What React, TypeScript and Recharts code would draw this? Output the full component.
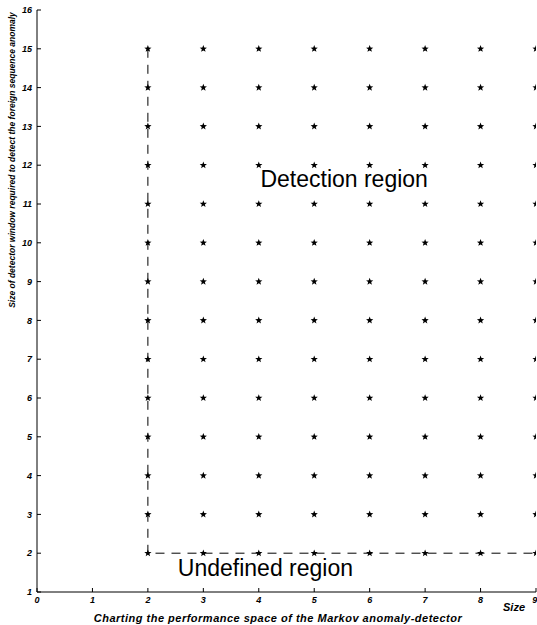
import { ScatterChart, Scatter, XAxis, YAxis, ReferenceDot } from 'recharts';

const detectorSizes = [2, 3, 4, 5, 6, 7, 8, 9];
const windowSizes = [2, 3, 4, 5, 6, 7, 8, 9, 10, 11, 12, 13, 14, 15];
const xTicks = [0, 1, 2, 3, 4, 5, 6, 7, 8, 9];
const yTicks = [1, 2, 3, 4, 5, 6, 7, 8, 9, 10, 11, 12, 13, 14, 15, 16];
const boundaryX = [2, 2, 9];
const boundaryY = [15, 2, 2];

const gridPoints = detectorSizes.flatMap((x) => windowSizes.map((y) => ({ x, y })));
const boundary = boundaryX.map((x, i) => ({ x, y: boundaryY[i] }));

const font = 'Arial, "Liberation Sans", Helvetica, sans-serif';
const tickStyle = { fontSize: 9, fontWeight: 700, fontStyle: 'italic', fill: '#000', fontFamily: font };

const Star = (props: any) => {
  const { cx, cy } = props;
  if (cx == null || cy == null) return null;
  const pts: string[] = [];
  for (let i = 0; i < 10; i++) {
    const r = i % 2 === 0 ? 3.8 : 1.6;
    const a = (Math.PI / 5) * i - Math.PI / 2;
    pts.push(`${cx + r * Math.cos(a)},${cy + r * Math.sin(a)}`);
  }
  return <polygon points={pts.join(' ')} fill="#000" stroke="none" />;
};

export default function App() {
  return (
    <div style={{ position: 'absolute', left: 0, top: 0, width: 537, height: 625, background: '#fff' }}>
      <ScatterChart width={537} height={625} margin={{ top: 10, right: 1, bottom: 0, left: 0 }}>
        <XAxis
          type="number"
          dataKey="x"
          domain={[0, 9]}
          ticks={xTicks}
          allowDataOverflow
          height={33}
          tickSize={-4}
          tickMargin={9}
          stroke="#000"
          tick={tickStyle}
          label={{
            content: () => (
              <g>
                <text x={278} y={622} textAnchor="middle" style={{ ...tickStyle, fontSize: 11, letterSpacing: 0.5 }}>
                  Charting the performance space of the Markov anomaly-detector
                </text>
                <text x={514} y={611} textAnchor="middle" style={{ ...tickStyle, fontSize: 11 }}>
                  Size
                </text>
              </g>
            ),
          }}
        />
        <YAxis
          type="number"
          dataKey="y"
          domain={[1, 16]}
          ticks={yTicks}
          allowDataOverflow
          width={37}
          tickSize={-4}
          tickMargin={9}
          stroke="#000"
          tick={tickStyle}
          label={{
            content: () => (
              <text
                x={15}
                y={160}
                textAnchor="middle"
                transform="rotate(-90 15 160)"
                style={{ ...tickStyle, fontSize: 8.5 }}
              >
                Size of detector window required to detect the foreign sequence anomaly
              </text>
            ),
          }}
        />
        <Scatter
          data={boundary}
          line={{ stroke: '#000', strokeWidth: 1, strokeDasharray: '9 7' }}
          shape={() => null}
          isAnimationActive={false}
        />
        <Scatter data={gridPoints} shape={Star} isAnimationActive={false} />
        <ReferenceDot
          x={5.54}
          y={11.65}
          r={0}
          label={{ value: 'Detection region', position: 'center', fontSize: 23, fill: '#000', fontFamily: font }}
        />
        <ReferenceDot
          x={4.12}
          y={1.62}
          r={0}
          label={{ value: 'Undefined region', position: 'center', fontSize: 23, fill: '#000', fontFamily: font }}
        />
      </ScatterChart>
    </div>
  );
}
